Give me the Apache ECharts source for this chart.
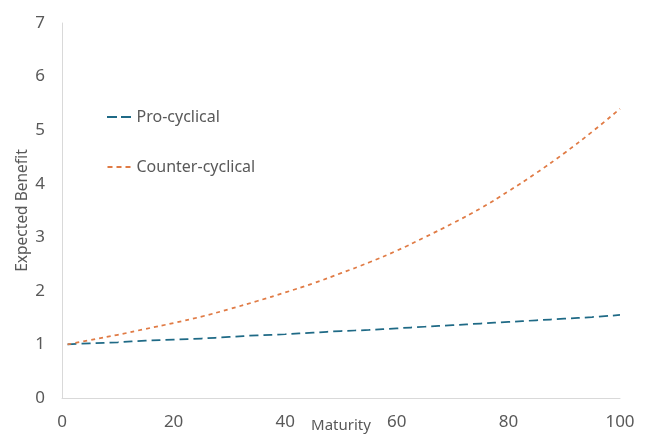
<!DOCTYPE html>
<html><head><meta charset="utf-8">
<script src="https://cdn.jsdelivr.net/npm/echarts@6/dist/echarts.min.js"></script>
<style>html,body{margin:0;padding:0;background:#fff}#c{width:656px;height:434px}</style>
</head><body><div id="c"></div>
<script>
const maturity = [1,5,10,15,20,25,30,35,40,45,50,55,60,65,70,75,80,85,90,95,100];
const proCyclical = [1.00,1.02,1.04,1.07,1.09,1.11,1.14,1.17,1.19,1.22,1.25,1.27,1.30,1.33,1.36,1.39,1.42,1.45,1.48,1.51,1.55];
const counterCyclical = [1.00,1.08,1.18,1.29,1.40,1.52,1.66,1.81,1.97,2.14,2.33,2.53,2.75,3.00,3.26,3.54,3.86,4.20,4.57,4.97,5.40];
const seriesNames = ['Pro-cyclical','Counter-cyclical'];

const font = 'Noto Sans';
const proColor = '#1f6a86', counterColor = '#e07b45';
const chart = echarts.init(document.getElementById('c'), null, {renderer:'canvas'});
chart.setOption({
  animation:false,
  backgroundColor:'#fff',
  textStyle:{fontFamily:font},
  grid:{left:62,right:36,top:23,bottom:36,containLabel:false,outerBoundsMode:'none'},
  legend:{
    orient:'vertical', left:102, top:101, itemGap:28, itemWidth:25, itemHeight:2,
    textStyle:{fontFamily:font,fontSize:16,color:'#595959',lineHeight:22},
    data:[
      {name:seriesNames[0], icon:'path://M0,0h10v2h-10z M14,0h10v2h-10z', itemStyle:{color:proColor}},
      {name:seriesNames[1], icon:'path://M0,0h5v2h-5z M9,0h5v2h-5z M18,0h5v2h-5z', itemStyle:{color:counterColor}}
    ]
  },
  xAxis:{
    type:'value', min:0, max:100, interval:20,
    name:'Maturity', nameLocation:'middle', nameGap:20, nameMoveOverlap:false,
    nameTextStyle:{fontFamily:font,fontSize:15,color:'#595959'},
    axisLine:{show:true,lineStyle:{color:'#d9d9d9'}},
    axisTick:{show:false}, splitLine:{show:false},
    axisLabel:{fontFamily:font,fontSize:17,color:'#595959',margin:16}
  },
  yAxis:{
    type:'value', min:0, max:7, interval:1,
    name:'Expected Benefit', nameLocation:'middle', nameGap:31, nameMoveOverlap:false,
    nameTextStyle:{fontFamily:font,fontSize:15.5,color:'#595959'},
    axisLine:{show:true,lineStyle:{color:'#d9d9d9'}},
    axisTick:{show:false}, splitLine:{show:false},
    axisLabel:{fontFamily:font,fontSize:17,color:'#595959',margin:17}
  },
  series:[
    {name:seriesNames[0], type:'line', smooth:true, symbol:'none',
     data:maturity.map((m,i)=>[m,proCyclical[i]]),
     itemStyle:{color:proColor},
     lineStyle:{color:proColor,width:1.75,type:[9,5]}},
    {name:seriesNames[1], type:'line', smooth:true, symbol:'none',
     data:maturity.map((m,i)=>[m,counterCyclical[i]]),
     itemStyle:{color:counterColor},
     lineStyle:{color:counterColor,width:1.75,type:[4,4]}}
  ]
});
</script></body></html>
